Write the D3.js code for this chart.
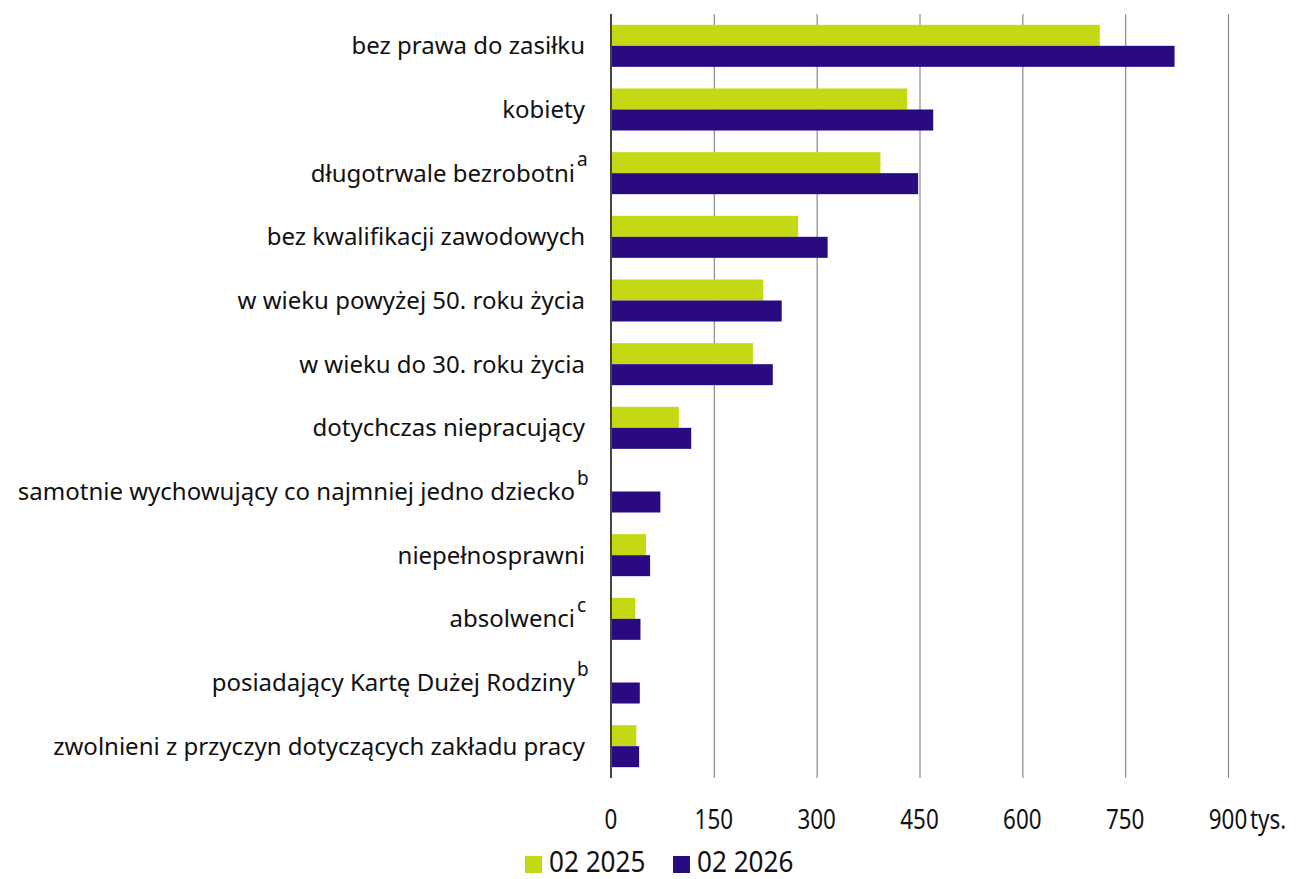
<!DOCTYPE html>
<html><head><meta charset="utf-8">
<script src="https://cdn.jsdelivr.net/npm/d3@7"></script>
<style>body{margin:0;background:#fff}svg{display:block}text{font-family:"Noto Sans",sans-serif;fill:#111}</style>
</head><body>
<svg id="c" width="1297" height="879"></svg>
<script>
const categories = ["bez prawa do zasiłku","kobiety","długotrwale bezrobotni","bez kwalifikacji zawodowych","w wieku powyżej 50. roku życia","w wieku do 30. roku życia","dotychczas niepracujący","samotnie wychowujący co najmniej jedno dziecko","niepełnosprawni","absolwenci","posiadający Kartę Dużej Rodziny","zwolnieni z przyczyn dotyczących zakładu pracy"];
const footnotes = ["","","a","","","","","b","","c","b",""];
const series2025 = [713,432,393,273,222,207,99,null,51,35,null,37];
const series2026 = [822,470,448,316,249,236,117,72,57,43,42,41];
const seriesNames = ["02 2025","02 2026"];
const colors = ["#c4d813","#290a82"];
const tickValues = [0,150,300,450,600,750,900];
const unit = "tys.";

const svg = d3.select("#c");
const x = d3.scaleLinear().domain([0,900]).range([611,1228]);
const y = d3.scaleBand().domain(categories).range([14,778]).paddingInner(0.34).paddingOuter(0.17);
const sub = d3.scaleBand().domain([0,1]).range([0,y.bandwidth()]);

// gridlines
svg.append("g").selectAll("line").data(tickValues.slice(1)).join("line")
  .attr("x1",d=>x(d)+0.5).attr("x2",d=>x(d)+0.5).attr("y1",14).attr("y2",778)
  .attr("stroke","#8a8a8a").attr("stroke-width",1.2);

// bars
const series=[series2025,series2026];
series.forEach((s,si)=>{
  svg.append("g").selectAll("rect").data(categories.map((c,i)=>({c,v:s[i]})).filter(d=>d.v!=null)).join("rect")
    .attr("x",x(0)).attr("y",d=>y(d.c)+sub(si)).attr("height",sub.bandwidth())
    .attr("width",d=>x(d.v)-x(0)).attr("fill",colors[si]);
});

// axis line
svg.append("line").attr("x1",x(0)).attr("x2",x(0)).attr("y1",14).attr("y2",778).attr("stroke","#444").attr("stroke-width",2);

const cond = (sel, cx, s) => sel.attr("transform",`translate(${cx},0) scale(${s},1) translate(${-cx},0)`);

// tick labels
svg.append("g").selectAll("text").data(tickValues).join("text")
  .attr("x",d=>x(d)).attr("y",829).attr("text-anchor","middle")
  .style("font-size","28px")
  .each(function(d){cond(d3.select(this),x(d),0.8);})
  .text(d=>d);
cond(svg.append("text").attr("x",1250).attr("y",829).attr("text-anchor","start")
  .style("font-size","28px").text(unit),1250,0.8);

// category labels
const cl = svg.append("g");
categories.forEach((c,i)=>{
  const fn = footnotes[i];
  const cy = y(c)+y.bandwidth()/2;
  const xr = fn ? 575 : 585;
  cl.append("text").attr("x",xr).attr("y",cy).attr("dy","0.35em")
    .attr("text-anchor","end").style("font-size","24px").text(c);
  if(fn){
    cl.append("text").attr("x",577).attr("y",cy-7).style("font-size","19px").text(fn);
  }
});

// legend
const lg = svg.append("g");
const lx=[525,673];
seriesNames.forEach((n,i)=>{
  lg.append("rect").attr("x",lx[i]).attr("y",856).attr("width",17).attr("height",17).attr("fill",colors[i]);
  cond(lg.append("text").attr("x",lx[i]+24).attr("y",872).style("font-size","29px").text(n), lx[i]+24, 0.9);
});
</script>
</body></html>
